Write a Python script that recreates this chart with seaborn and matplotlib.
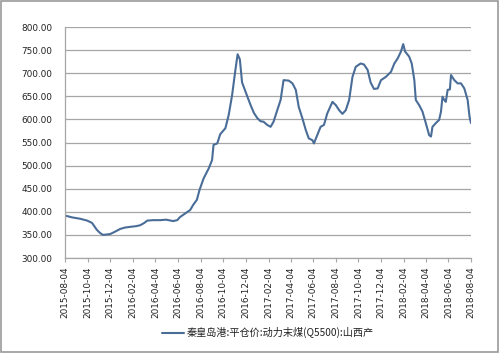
import matplotlib
matplotlib.use("Agg")
import matplotlib.pyplot as plt
import seaborn as sns
import pandas as pd
from matplotlib.patches import Rectangle
from matplotlib.lines import Line2D

# ---- data ----
dates = [
    "2015-08-04", "2015-08-23", "2015-09-14", "2015-10-03", "2015-10-16", "2015-10-29",
    "2015-11-07", "2015-11-15", "2015-12-04", "2015-12-17", "2015-12-31", "2016-01-13",
    "2016-02-01", "2016-02-12", "2016-02-23", "2016-03-05", "2016-03-13", "2016-03-29",
    "2016-04-17", "2016-05-03", "2016-05-22", "2016-06-02", "2016-06-10", "2016-06-28",
    "2016-07-07", "2016-07-15", "2016-07-25", "2016-08-01", "2016-08-12", "2016-08-26",
    "2016-09-04", "2016-09-08", "2016-09-18", "2016-09-26", "2016-10-10", "2016-10-19",
    "2016-10-28", "2016-11-06", "2016-11-12", "2016-11-18", "2016-11-24", "2016-12-08",
    "2016-12-17", "2016-12-26", "2017-01-04", "2017-01-13", "2017-01-21", "2017-01-31",
    "2017-02-09", "2017-02-17", "2017-02-27", "2017-03-08", "2017-03-16", "2017-03-30",
    "2017-04-09", "2017-04-18", "2017-04-26", "2017-05-06", "2017-05-15", "2017-05-23",
    "2017-06-02", "2017-06-06", "2017-06-15", "2017-06-24", "2017-07-03", "2017-07-12",
    "2017-07-26", "2017-08-04", "2017-08-13", "2017-08-22", "2017-08-31", "2017-09-09",
    "2017-09-18", "2017-09-27", "2017-10-10", "2017-10-19", "2017-10-29", "2017-11-06",
    "2017-11-15", "2017-11-25", "2017-12-04", "2017-12-17", "2017-12-31", "2018-01-09",
    "2018-01-18", "2018-01-27", "2018-02-02", "2018-02-07", "2018-02-18", "2018-02-25",
    "2018-03-04", "2018-03-08", "2018-03-17", "2018-03-26", "2018-04-04", "2018-04-13",
    "2018-04-18", "2018-04-22", "2018-05-01", "2018-05-10", "2018-05-15", "2018-05-19",
    "2018-05-24", "2018-05-28", "2018-06-02", "2018-06-08", "2018-06-11", "2018-06-20",
    "2018-06-29", "2018-07-08", "2018-07-17", "2018-07-26", "2018-07-31", "2018-08-04",
]
prices = [
    392, 388, 385, 381, 376, 361,
    354, 350, 352, 357, 363, 366,
    368, 369, 371, 376, 381, 382,
    382, 383, 380, 382, 389, 399,
    404, 415, 426, 447, 472, 494,
    512, 545, 548, 568, 581, 610,
    652, 707, 741, 730, 680, 650,
    631, 614, 603, 596, 595, 588,
    584, 595, 620, 642, 685, 684,
    678, 664, 627, 602, 577, 559,
    555, 548, 566, 584, 588, 613,
    638, 631, 620, 612, 620, 642,
    692, 714, 721, 719, 707, 680,
    666, 667, 685, 692, 703, 721,
    732, 747, 763, 747, 736, 721,
    685, 642, 631, 617, 592, 566,
    563, 584, 592, 599, 617, 649,
    642, 638, 664, 665, 696, 685,
    678, 678, 667, 642, 606, 592,
]
tick_dates = [
    "2015-08-04", "2015-10-04", "2015-12-04", "2016-02-04", "2016-04-04", "2016-06-04",
    "2016-08-04", "2016-10-04", "2016-12-04", "2017-02-04", "2017-04-04", "2017-06-04",
    "2017-08-04", "2017-10-04", "2017-12-04", "2018-02-04", "2018-04-04", "2018-06-04",
    "2018-08-04",
]
y_ticks = [300, 350, 400, 450, 500, 550, 600, 650, 700, 750, 800]
series_name = "秦皇岛港:平仓价:动力末煤(Q5500):山西产"

df = pd.DataFrame({"date": pd.to_datetime(dates), "price": prices, "series": series_name})

sns.set_theme(style="white")
plt.rcParams["font.family"] = ["DejaVu Sans", "Noto Sans CJK SC"]

fig = plt.figure(figsize=(5.0, 3.53), dpi=100)
ax = fig.add_axes([0.13, 0.269, 0.812, 0.6545])

line_color = "#4a6d98"
sns.lineplot(data=df, x="date", y="price", hue="series", palette=[line_color],
             linewidth=1.5, ax=ax, legend=False)

ax.set_ylim(300, 800)
ax.set_yticks(y_ticks)
ax.set_yticklabels([f"{v:.2f}" for v in y_ticks], fontsize=6.4, color="#222222")
ax.set_xlim(pd.Timestamp(tick_dates[0]), pd.Timestamp(tick_dates[-1]))
ax.set_xticks(pd.to_datetime(tick_dates))
ax.set_xticklabels(tick_dates, rotation=90, fontsize=6.4, color="#222222")
ax.set_xlabel("")
ax.set_ylabel("")

ax.yaxis.grid(True, color="#a6a6a6", linewidth=0.9)
ax.xaxis.grid(False)
ax.set_axisbelow(True)
for s in ["top", "right"]:
    ax.spines[s].set_visible(False)
ax.spines["left"].set_color("#a6a6a6")
ax.spines["left"].set_linewidth(0.9)
ax.spines["bottom"].set_color("#a6a6a6")
ax.spines["bottom"].set_linewidth(0.9)
ax.tick_params(axis="x", which="major", length=3, width=0.8, color="#a6a6a6",
               direction="out", bottom=True, pad=3)
ax.tick_params(axis="y", length=0, pad=9)

# legend
handle = Line2D([0], [0], color=line_color, linewidth=1.5)
leg = fig.legend([handle], [series_name], loc="center", bbox_to_anchor=(0.536, 0.057),
                 frameon=False, prop={"family": ["Noto Sans CJK SC", "DejaVu Sans"], "size": 7.3},
                 handlelength=2.2, handletextpad=0.3)
for t in leg.get_texts():
    t.set_color("#222222")

# outer border
fig.patches.append(Rectangle((0.002, 0.004), 0.994, 0.992, transform=fig.transFigure,
                             fill=False, edgecolor="#999999", linewidth=1.2))

fig.savefig("out.png", dpi=100)
